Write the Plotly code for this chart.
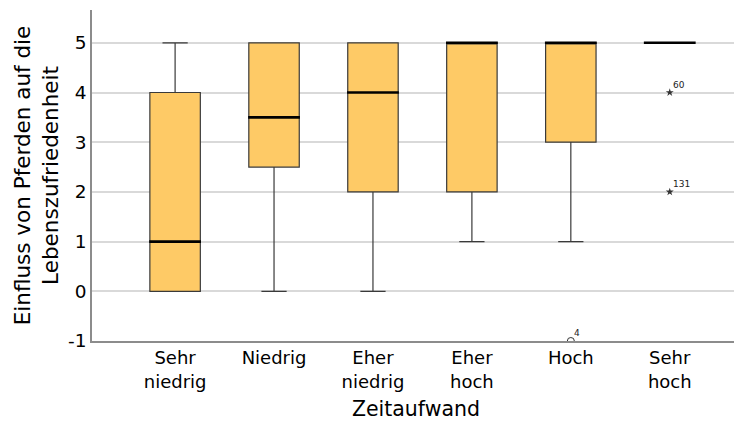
import plotly.graph_objects as go

categories = ["Sehr<br>niedrig", "Niedrig", "Eher<br>niedrig", "Eher<br>hoch", "Hoch", "Sehr<br>hoch"]
q1 = [0, 2.5, 2, 2, 3, 5]
median = [1, 3.5, 4, 5, 5, 5]
q3 = [4, 5, 5, 5, 5, 5]
lower_whisker = [0, 0, 0, 1, 1, 5]
upper_whisker = [5, 5, 5, 5, 5, 5]

# outliers (circle) and extremes (star)
outlier_cat = ["Hoch"]
outlier_val = [-1]
outlier_lbl = ["4"]
extreme_cat = ["Sehr<br>hoch", "Sehr<br>hoch"]
extreme_val = [4, 2]
extreme_lbl = ["60", "131"]

y_ticks = [-1, 0, 1, 2, 3, 4, 5]
y_ticktext = ["-1", "0", "1", "2", "3", "4", "5"]

FONT = "DejaVu Sans"
BOX_FILL = "#FECA66"
BOX_LINE = "#3a3a3a"

fig = go.Figure()
fig.add_trace(go.Box(
    x=categories, q1=q1, median=median, q3=q3,
    lowerfence=lower_whisker, upperfence=upper_whisker,
    fillcolor=BOX_FILL, line=dict(color=BOX_LINE, width=1.2),
    width=0.51, whiskerwidth=0.5, boxpoints=False, hoverinfo="skip",
    showlegend=False,
))
# thick median lines
fig.add_trace(go.Scatter(
    x=categories, y=median, mode="markers",
    marker=dict(symbol="line-ew", size=37, line=dict(color="black", width=2.6)),
    showlegend=False, hoverinfo="skip",
))
# outliers
fig.add_trace(go.Scatter(
    x=outlier_cat, y=outlier_val, mode="markers",
    marker=dict(symbol="circle-open", size=7, color="#333333", line=dict(width=1)),
    showlegend=False, hoverinfo="skip",
))
fig.add_trace(go.Scatter(
    x=extreme_cat, y=extreme_val, mode="markers",
    marker=dict(symbol="star", size=6, color="#333333", line=dict(width=0)),
    showlegend=False, hoverinfo="skip",
))
for c, v, t in zip(outlier_cat + extreme_cat, outlier_val + extreme_val, outlier_lbl + extreme_lbl):
    fig.add_annotation(x=c, y=v, text=t, showarrow=False, xanchor="left", yanchor="bottom",
                       xshift=1, yshift=1, font=dict(family=FONT, size=9, color="#222222"))

fig.update_layout(
    width=734, height=413,
    margin=dict(l=84, r=2, t=2, b=80),
    paper_bgcolor="white", plot_bgcolor="white",
    font=dict(family=FONT, size=18, color="black"),
    xaxis=dict(
        type="category", categoryorder="array", categoryarray=categories,
        range=[-0.84, 5.71], showgrid=False, showline=True, linecolor="#8c8c8c", linewidth=1.5,
        ticks="", tickfont=dict(size=18), automargin=False,
        title=dict(text="Zeitaufwand", font=dict(size=20.5), standoff=11),
    ),
    yaxis=dict(
        range=[-1, 5.66], tickvals=y_ticks, ticktext=y_ticktext, showgrid=True,
        gridcolor="#d9d9d9", gridwidth=1.5,
        zeroline=False, showline=True, linecolor="#8c8c8c", linewidth=1.5, ticks="",
        tickfont=dict(size=18.5), automargin=False,
        title=dict(text="Einfluss von Pferden auf die<br>Lebenszufriedenheit", font=dict(size=21.5), standoff=4),
    ),
)
fig.write_html("out.html")
